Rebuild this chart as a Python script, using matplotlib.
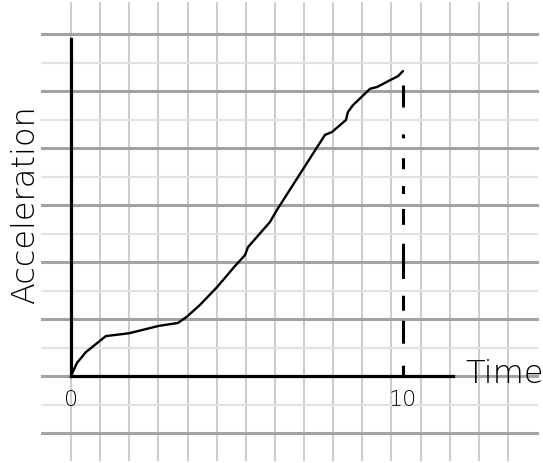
import numpy as np
import matplotlib
matplotlib.use('Agg')
import matplotlib.pyplot as plt

# curve (time, acceleration in major-grid units)
time = [0, 0.18, 0.45, 1.05, 1.75, 2.65, 3.22, 3.49, 3.89, 4.40, 4.94, 5.24, 5.33, 5.60,
        5.99, 6.20, 7.65, 7.86, 8.28, 8.34, 8.49, 9.01, 9.22, 9.61, 9.85, 10.0]
accel = [0, 0.23, 0.42, 0.70, 0.75, 0.88, 0.93, 1.04, 1.25, 1.56, 1.93, 2.12, 2.26, 2.44,
         2.70, 2.91, 4.23, 4.28, 4.49, 4.63, 4.75, 5.04, 5.07, 5.19, 5.26, 5.35]
marker_time = [10, 10]
marker_accel = [5.1, 0]
tick_pos = [0, 10]
tick_labels = ['0', '10']

W, H = 543, 463
fig = plt.figure(figsize=(W / 100, H / 100), dpi=100)

# graph paper background, in pixel units
bg = fig.add_axes([0, 0, 1, 1])
bg.set_xlim(0, W)
bg.set_ylim(H, 0)
bg.axis('off')
for i in range(16):
    x = 71 + 29.13 * i
    bg.plot([x, x], [3, 460], color='#cccccc', lw=1.4, zorder=1)
for j in range(15):
    y = 34 + 28.5 * j
    if j % 2 == 0:
        bg.plot([42, 537], [y, y], color='#a3a3a3', lw=2.2, zorder=2)
    else:
        bg.plot([42, 537], [y, y], color='#e2e2e2', lw=1.5, zorder=2)

# main chart
x0, x1 = 71, 71 + 11.5 * 33.2
y0, y1 = 376, 376 - 6 * 57
ax = fig.add_axes([x0 / W, (H - y0) / H, (x1 - x0) / W, (y0 - y1) / H])
ax.patch.set_alpha(0)
ax.set_xlim(0, 11.5)
ax.set_ylim(0, 6)
for s in ['top', 'right']:
    ax.spines[s].set_visible(False)
ax.spines['left'].set_bounds(0, 5.91)
ax.spines['left'].set_linewidth(2.3)
ax.spines['bottom'].set_linewidth(2.3)
ax.set_yticks([])
ax.set_xticks(tick_pos)
ax.set_xticklabels(tick_labels, fontsize=16, fontweight='light')
ax.tick_params(axis='x', length=0, pad=10)

ax.plot(time, accel, color='black', lw=1.7, solid_capstyle='round', clip_on=False)
dash = ax.plot(marker_time, marker_accel, color='black', lw=2.2, clip_on=False)[0]
dash.set_dashes([7.2, 8.8, 1.3, 6.5, 3.6, 5.5, 2.6, 4.9, 5.2, 6.2, 11.5, 5.5, 4.9, 3.3, 7.5, 7.2, 4.3, 2])

ax.text(11.87, 0.03, 'Time', fontsize=23, fontweight='light', ha='left', va='center', clip_on=False)
ax.text(-1.39, 3.0, 'Acceleration', fontsize=23, fontweight='light', rotation=90,
        ha='center', va='center', clip_on=False)

fig.savefig('out.png', dpi=100)
